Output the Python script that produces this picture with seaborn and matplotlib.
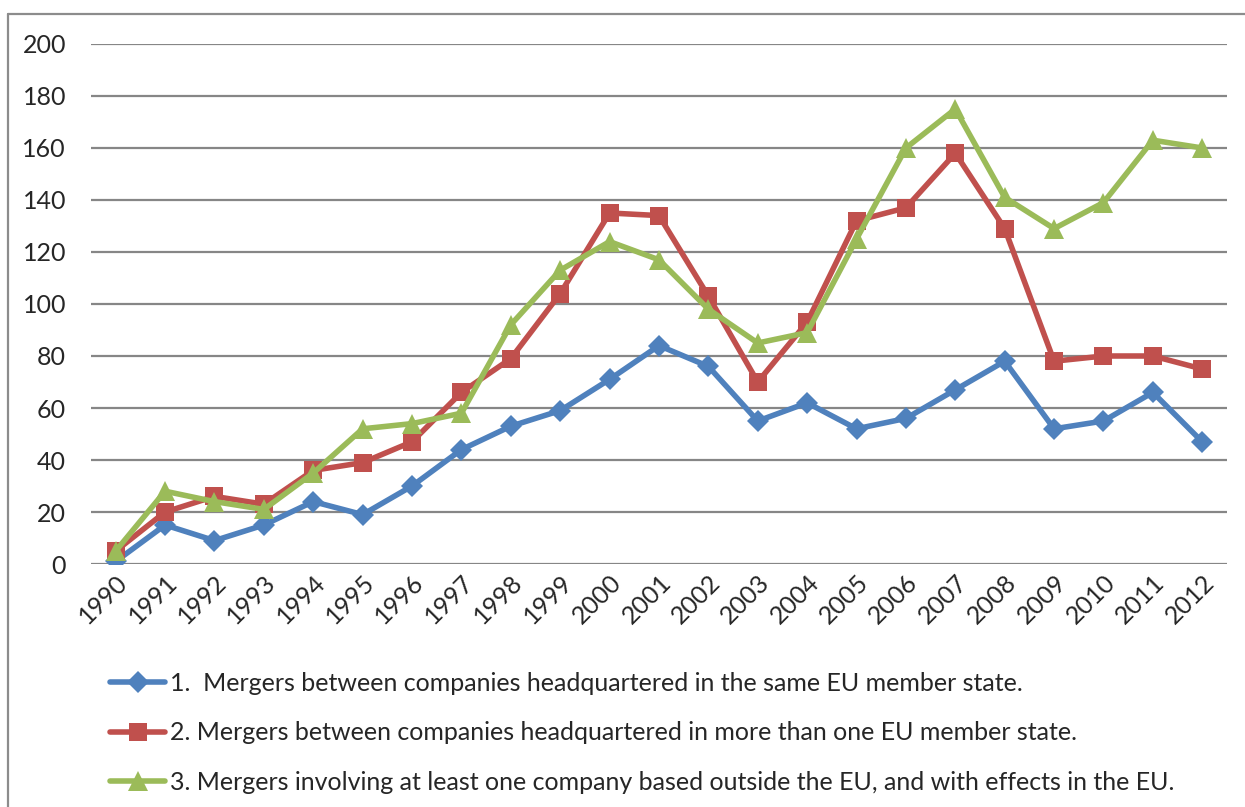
import pandas as pd
import seaborn as sns
import matplotlib.pyplot as plt
from matplotlib.lines import Line2D

years = list(range(1990, 2013))
same_state = [1, 15, 9, 15, 24, 19, 30, 44, 53, 59, 71, 84, 76, 55, 62, 52, 56, 67, 78, 52, 55, 66, 47]
multi_state = [5, 20, 26, 23, 36, 39, 47, 66, 79, 104, 135, 134, 103, 70, 93, 132, 137, 158, 129, 78, 80, 80, 75]
outside_eu = [5, 28, 24, 21, 35, 52, 54, 58, 92, 113, 124, 117, 98, 85, 89, 125, 160, 175, 141, 129, 139, 163, 160]

labels = [
    "1.  Mergers between companies headquartered in the same EU member state.",
    "2. Mergers between companies headquartered in more than one EU member state.",
    "3. Mergers involving at least one company based outside the EU, and with effects in the EU.",
]
colors = ["#4F81BD", "#C0504D", "#9BBB59"]
markers = ["D", "s", "^"]
msizes = [11, 13, 15]

df = pd.DataFrame({"year": years * 3,
                   "value": same_state + multi_state + outside_eu,
                   "series": [labels[0]] * 23 + [labels[1]] * 23 + [labels[2]] * 23})

sns.set_style("white")
plt.rcParams["font.family"] = ["Lato", "DejaVu Sans"]

fig = plt.figure(figsize=(12.45, 8.07), dpi=100)
ax = fig.add_axes([0.0731, 0.3011, 0.9124, 0.6444])

for lab, c, m, ms in zip(labels, colors, markers, msizes):
    sub = df[df.series == lab]
    sns.lineplot(data=sub, x="year", y="value", ax=ax, color=c, marker=m,
                 markersize=ms, markeredgewidth=0, linewidth=4, legend=False)

ax.set_xlim(1989.5, 2012.5)
ax.set_ylim(0, 200)
ax.set_yticks(range(0, 201, 20))
ax.set_xticks(years)
ax.set_xticklabels([str(y) for y in years], rotation=45, ha="right",
                   rotation_mode="anchor", fontsize=18)
ax.tick_params(axis="y", labelsize=18, pad=18, length=0)
ax.tick_params(axis="x", pad=5, length=0)
ax.yaxis.grid(True, color="#868686", linewidth=1.6)
ax.set_axisbelow(True)
for s in ax.spines.values():
    s.set_visible(False)
ax.set_xlabel("")
ax.set_ylabel("")

handles = [Line2D([], [], color=c, marker=m, markersize=ms, markeredgewidth=0, linewidth=4)
           for c, m, ms in zip(colors, markers, msizes)]
fig.legend(handles, labels, loc="upper left", bbox_to_anchor=(0.0884, 0.167),
           frameon=False, fontsize=18, handlelength=2.2, handletextpad=0.2,
           labelspacing=1.05, borderaxespad=0, borderpad=0)

# outer chart frame (left and top edges visible)
fig.add_artist(Line2D([0.0066, 0.0066], [0, 0.9827], color="#8c8c8c", linewidth=1.6,
                      transform=fig.transFigure))
fig.add_artist(Line2D([0.0066, 1.0], [0.9827, 0.9827], color="#8c8c8c", linewidth=1.6,
                      transform=fig.transFigure))

fig.savefig("out.png", dpi=100)
